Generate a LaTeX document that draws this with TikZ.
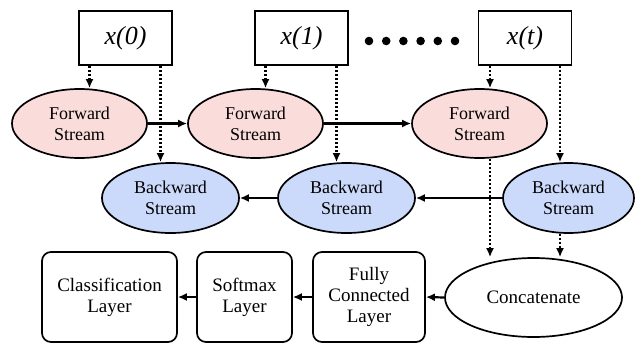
\documentclass[tikz,border=0pt]{standalone}
\usepackage{fontspec}
\setmainfont{Liberation Serif}
\usepackage{xcolor}
\usepackage{tikz}
\usetikzlibrary{positioning, arrows.meta, shapes.geometric}

\definecolor{fwpink}{RGB}{250,221,219}
\definecolor{bwblue}{RGB}{203,217,250}

\begin{document}
\begin{tikzpicture}[
                x=1pt, y=-1pt,
                inbox/.style={draw, line width=1.7pt, minimum width=93pt, minimum height=54pt, inner sep=0pt, font=\fontsize{26}{28}\selectfont\itshape},
                fwnode/.style={draw, ellipse, line width=1.7pt, fill=fwpink, minimum width=135pt, minimum height=69pt, inner sep=0pt, align=center, font=\fontsize{18}{21}\selectfont},
                bwnode/.style={fwnode, fill=bwblue, minimum width=137pt, minimum height=70pt},
                layer/.style={draw, rounded corners=9pt, line width=1.7pt, minimum height=90pt, inner sep=0pt, align=center, font=\fontsize{19}{21}\selectfont},
                solidarrow/.style={line width=2.2pt, -{Latex[length=9pt, width=8pt]}},
                dotarrow/.style={line width=2.2pt, dash pattern=on 2.2pt off 1.8pt, -{Latex[length=9pt, width=8pt]}}
                ]

                \useasboundingbox (0,0) rectangle (636,343);

                % inputs
                \node[inbox] (x0) at (125.5,38) {x(0)};
                \node[inbox] (x1) at (301.5,38) {x(1)};
                \node[inbox] (xt) at (525,38) {x(t)};
                \foreach \i in {0,...,5}
                    \fill (369+17.2*\i,41) circle (4.3);

                % forward / backward streams
                \node[fwnode] (fw0) at (79.5,123.5) {Forward\\Stream};
                \node[fwnode] (fw1) at (255.5,123.5) {Forward\\Stream};
                \node[fwnode] (fw2) at (479.5,123.5) {Forward\\Stream};
                \node[bwnode] (bw0) at (170.5,198) {Backward\\Stream};
                \node[bwnode] (bw1) at (346.5,198) {Backward\\Stream};
                \node[bwnode, minimum width=131pt] (bw2) at (568.5,198) {Backward\\Stream};

                % output layers
                \node[draw, ellipse, line width=1.7pt, minimum width=177pt, minimum height=79pt, inner sep=0pt, font=\fontsize{19}{21}\selectfont] (cc) at (533.5,297.5) {Concatenate};
                \node[layer, minimum width=112pt] (fc) at (369,297) {Fully\\Connected\\Layer};
                \node[layer, minimum width=95pt] (sm) at (244.5,297) {Softmax\\Layer};
                \node[layer, minimum width=135pt] (cl) at (109.5,297) {Classification\\Layer};

                % input connections
                \draw[dotarrow] ([xshift=-36pt]x0.south) -- ([xshift=10pt]fw0.north);
                \draw[dotarrow] ([xshift=35pt]x0.south) -- ([xshift=-10pt]bw0.north);
                \draw[dotarrow] ([xshift=-36pt]x1.south) -- ([xshift=10pt]fw1.north);
                \draw[dotarrow] ([xshift=35pt]x1.south) -- ([xshift=-10pt]bw1.north);
                \draw[dotarrow] ([xshift=-35pt]xt.south) -- ([xshift=10.5pt]fw2.north);
                \draw[dotarrow] ([xshift=35pt]xt.south) -- ([xshift=-8.5pt]bw2.north);

                % recurrent connections
                \draw[solidarrow] (fw0.east) -- (fw1.west);
                \draw[solidarrow] (fw1.east) -- (fw2.west);
                \draw[solidarrow] (bw2.west) -- (bw1.east);
                \draw[solidarrow] (bw1.west) -- (bw0.east);

                % merge and classify
                \draw[dotarrow] ([xshift=10.5pt]fw2.south) -- (490,0 |- cc.north);
                \draw[dotarrow] ([xshift=-8.5pt]bw2.south) -- (560,0 |- cc.north);
                \draw[solidarrow] (cc.west) -- (fc.east);
                \draw[solidarrow] (fc.west) -- (sm.east);
                \draw[solidarrow] (sm.west) -- (cl.east);
            \end{tikzpicture}
\end{document}
